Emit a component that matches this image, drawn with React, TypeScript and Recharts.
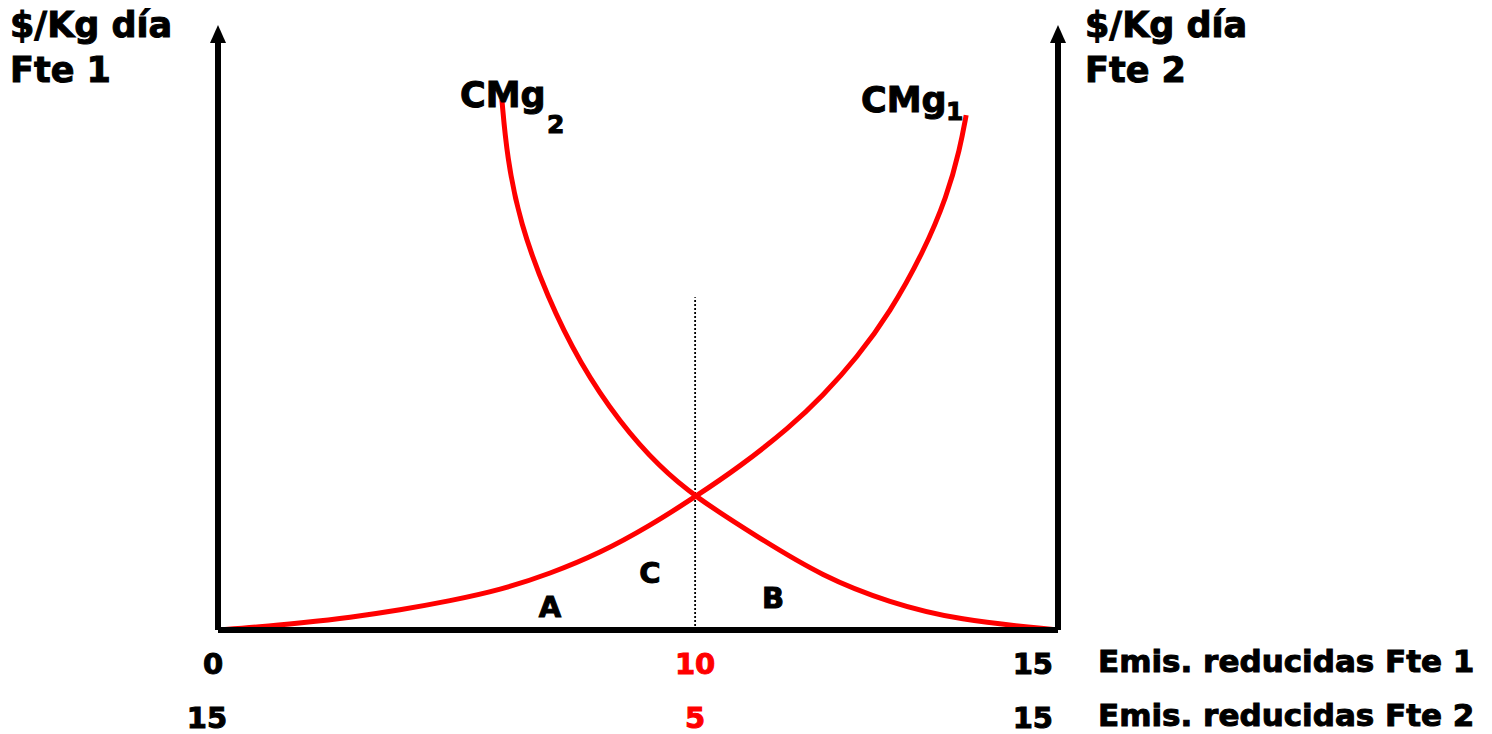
import React from 'react';
import { ComposedChart, Line, XAxis, YAxis, ReferenceLine } from 'recharts';

// Marginal cost curves (x: position on the shared emissions axis, y: $/Kg día)
const cmg1X = [0, 0.75, 1.46, 2.36, 3.25, 4.14, 5.04, 5.93, 6.82, 7.71, 8.52, 9.32, 10.21, 10.8, 11.41, 12.0, 12.59, 13.02, 13.25, 13.36];
const cmg1Y = [0, 0.5, 1.16, 2.07, 3.3, 4.8, 6.6, 9.3, 12.7, 17.2, 22.0, 27.0, 33.5, 38.7, 45.0, 52.5, 62.3, 71.7, 79.6, 85.1];
const cmg2X = [5.07, 5.16, 5.39, 5.88, 6.46, 7.18, 7.89, 8.52, 9.63, 10.8, 12.0, 13.2, 15];
const cmg2Y = [87.6, 78.2, 67.3, 55.0, 44.1, 34.2, 26.9, 22.0, 15.4, 8.8, 4.5, 1.65, 0];

const tickPositions = [0, 8.52, 15];
const ticksFte1 = ['0', '10', '15'];
const ticksFte2 = ['15', '5', '15'];
const equilibriumX = 8.52;
const dottedTop = 55;

const cmg1 = cmg1X.map((x, i) => ({ x, y: cmg1Y[i] }));
const cmg2 = cmg2X.map((x, i) => ({ x, y: cmg2Y[i] }));

const FONT = '"DejaVu Sans", sans-serif';
const RED = '#ff0000';

const ArrowAxis = (props: any) => {
  const { x1, y1, x2, y2 } = props;
  const x = x1;
  const top = Math.min(y1, y2);
  const bottom = Math.max(y1, y2);
  return (
    <g>
      <line x1={x} y1={bottom} x2={x} y2={top + 14} stroke="#000" strokeWidth={6} />
      <polygon points={`${x},${top} ${x - 8},${top + 18} ${x + 8},${top + 18}`} fill="#000" />
    </g>
  );
};

const TwoRowTick = (props: any) => {
  const { x, y, index } = props;
  const red = index === 1;
  const fill = red ? RED : '#000';
  let anchor: 'middle' | 'end' = 'middle';
  let x1 = x;
  let x2 = x;
  if (index === 0) {
    x1 = x - 5;
    x2 = x - 11;
  } else if (index === 2) {
    anchor = 'end';
    x1 = x - 5;
    x2 = x - 5;
  }
  const common = {
    textAnchor: anchor,
    fill,
    stroke: fill,
    strokeWidth: 1,
    fontFamily: FONT,
    fontWeight: 'bold' as const,
    fontSize: 29,
  };
  return (
    <g>
      <text x={x1} y={y + 42} {...common}>
        {ticksFte1[index]}
      </text>
      <text x={x2} y={y + 96} {...common}>
        {ticksFte2[index]}
      </text>
    </g>
  );
};

const txt = { fontFamily: FONT, fontWeight: 'bold' as const, fill: '#000', stroke: '#000', strokeWidth: 1 };

export default function App() {
  return (
    <div style={{ position: 'absolute', left: 0, top: 0, width: 1492, height: 734, background: '#fff' }}>
      <ComposedChart
        width={1492}
        height={734}
        margin={{ top: 25, left: 218, right: 434, bottom: 14 }}
      >
        <XAxis
          type="number"
          dataKey="x"
          domain={[0, 15]}
          ticks={tickPositions}
          allowDataOverflow
          height={90}
          axisLine={{ stroke: '#000', strokeWidth: 6 }}
          tickLine={false}
          tickSize={0}
          tick={<TwoRowTick />}
          interval={0}
        />
        <YAxis type="number" domain={[0, 100]} hide allowDataOverflow />
        <ReferenceLine
          segment={[{ x: 0, y: 0 }, { x: 0, y: 100 }]}
          ifOverflow="visible"
          shape={<ArrowAxis />}
        />
        <ReferenceLine
          segment={[{ x: 15, y: 0 }, { x: 15, y: 100 }]}
          ifOverflow="visible"
          shape={<ArrowAxis />}
        />
        <ReferenceLine
          segment={[{ x: equilibriumX, y: 0 }, { x: equilibriumX, y: dottedTop }]}
          stroke="#000"
          strokeWidth={1.8}
          strokeDasharray="2 2"
          ifOverflow="visible"
        />
        <Line
          data={cmg1}
          dataKey="y"
          type="basis"
          stroke={RED}
          strokeWidth={5}
          dot={false}
          activeDot={false}
          isAnimationActive={false}
        />
        <Line
          data={cmg2}
          dataKey="y"
          type="basis"
          stroke={RED}
          strokeWidth={5}
          dot={false}
          activeDot={false}
          isAnimationActive={false}
        />
      </ComposedChart>
      <svg
        width={1492}
        height={734}
        style={{ position: 'absolute', left: 0, top: 0, pointerEvents: 'none' }}
      >
        <text x={10} y={37} fontSize={35} {...txt}>$/Kg día</text>
        <text x={10} y={82} fontSize={35} {...txt}>Fte 1</text>
        <text x={1085} y={37} fontSize={35} {...txt}>$/Kg día</text>
        <text x={1085} y={82} fontSize={35} {...txt}>Fte 2</text>
        <text x={460} y={107} fontSize={35} {...txt}>CMg</text>
        <text x={547} y={133} fontSize={25} {...txt}>2</text>
        <text x={861} y={112} fontSize={35} {...txt}>CMg</text>
        <text x={946} y={120} fontSize={25} {...txt}>1</text>
        <text x={550} y={617} fontSize={29} textAnchor="middle" {...txt}>A</text>
        <text x={650} y={583} fontSize={29} textAnchor="middle" {...txt}>C</text>
        <text x={773} y={608} fontSize={29} textAnchor="middle" {...txt}>B</text>
        <text x={1098} y={672} fontSize={31} {...txt}>Emis. reducidas Fte 1</text>
        <text x={1098} y={726} fontSize={31} {...txt}>Emis. reducidas Fte 2</text>
      </svg>
    </div>
  );
}
